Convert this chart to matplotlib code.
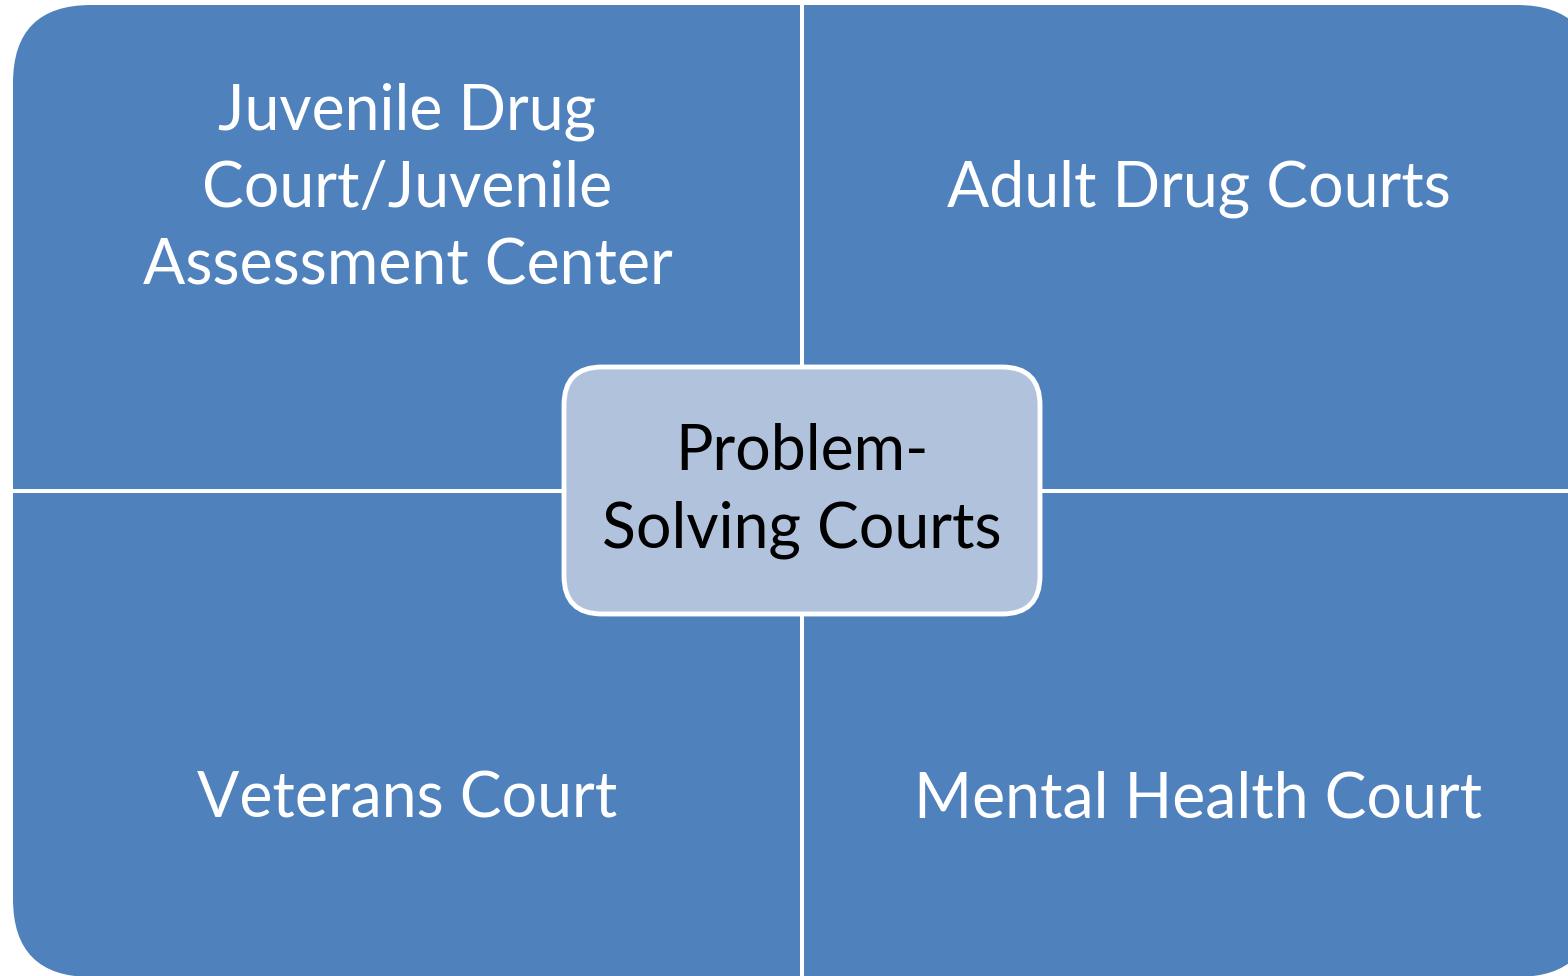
import matplotlib.pyplot as plt
from matplotlib.patches import FancyBboxPatch

# quadrant labels, clockwise from top left
quad_labels = ["Juvenile Drug\nCourt/Juvenile\nAssessment Center",
               "Adult Drug Courts",
               "Mental Health Court",
               "Veterans Court"]
center_label = "Problem-\nSolving Courts"

blue = "#4F81BD"
light = "#B1C2DD"

W, H = 1568, 976
fig = plt.figure(figsize=(W / 100, H / 100), dpi=100)
ax = fig.add_axes([0, 0, 1, 1])
ax.set_xlim(0, W)
ax.set_ylim(H, 0)
ax.axis("off")

# outer rounded block (runs a bit past right and bottom edge)
x0, y0, x1, y1 = 13, 5, 1595, 977
ax.add_patch(FancyBboxPatch((x0, y0), x1 - x0, y1 - y0,
                            boxstyle="round,pad=0,rounding_size=78",
                            fc=blue, ec="none", zorder=1))
mx, my = 802, 491
ax.plot([mx, mx], [0, H], color="white", lw=2.9, zorder=2)
ax.plot([0, W], [my, my], color="white", lw=2.9, zorder=2)

# label positions: centre of each quadrant, pushed outward
qx = [(x0 + mx) / 2, (mx + x1) / 2, (mx + x1) / 2, (x0 + mx) / 2]
qy = [189, 189, 800, 800]
for lab, x, y in zip(quad_labels, qx, qy):
    ax.text(x, y, lab, color="white", ha="center", va="center",
            fontsize=45, family="Lato", linespacing=1.4, zorder=4)

# centre box
cx0, cy0, cx1, cy1 = 564, 367, 1040, 614
ax.add_patch(FancyBboxPatch((cx0, cy0), cx1 - cx0, cy1 - cy0,
                            boxstyle="round,pad=0,rounding_size=38",
                            fc=light, ec="white", lw=3.5, zorder=3))
ax.text((cx0 + cx1) / 2, 491, center_label, color="black", ha="center",
        va="center", fontsize=45, family="Lato", linespacing=1.4, zorder=4)

fig.savefig("out.png", dpi=100)
